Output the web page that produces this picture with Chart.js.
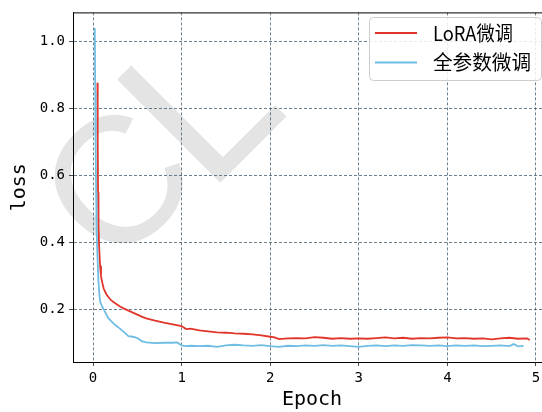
<!DOCTYPE html>
<html>
<head>
<meta charset="utf-8">
<script src="https://cdn.jsdelivr.net/npm/chart.js@4.4.0/dist/chart.umd.min.js"></script>
<style>
  body { margin: 0; overflow: hidden; background: #fff; }
  #wrap { width: 542px; height: 412px; overflow: hidden; }
</style>
</head>
<body>
<div id="wrap"><canvas id="lossChart" width="560" height="412"></canvas></div>
<script>
// series labels
const seriesNames = ['LoRA微调', '全参数微调'];
const xTicks = [0, 1, 2, 3, 4, 5];
const yTicks = [0.2, 0.4, 0.6, 0.8, 1.0];

// LoRA
const loraEpoch = [0.05, 0.053, 0.057, 0.062, 0.07, 0.08, 0.09, 0.10, 0.12, 0.15, 0.20, 0.25, 0.30, 0.35, 0.40, 0.45,
  0.50, 0.55, 0.60, 0.70, 0.80, 0.90, 1.00, 1.05, 1.10, 1.20, 1.30, 1.40, 1.50, 1.60, 1.70, 1.80, 1.90, 2.00, 2.05,
  2.10, 2.20, 2.30, 2.40, 2.50, 2.60, 2.70, 2.80, 2.90, 3.00, 3.10, 3.20, 3.30, 3.40, 3.50, 3.60, 3.70, 3.80, 3.90,
  4.00, 4.10, 4.20, 4.30, 4.40, 4.50, 4.60, 4.70, 4.80, 4.90, 4.93];
const loraLoss = [0.877, 0.70, 0.55, 0.45, 0.38, 0.33, 0.30, 0.285, 0.262, 0.245, 0.228, 0.218, 0.209, 0.202, 0.196, 0.19,
  0.184, 0.178, 0.173, 0.166, 0.160, 0.155, 0.150, 0.141, 0.142, 0.137, 0.134, 0.131, 0.130, 0.128, 0.127, 0.125, 0.122, 0.118, 0.116,
  0.111, 0.113, 0.114, 0.113, 0.117, 0.115, 0.112, 0.114, 0.112, 0.113, 0.112, 0.114, 0.116, 0.113, 0.115, 0.112, 0.114, 0.113, 0.115,
  0.116, 0.113, 0.114, 0.112, 0.113, 0.110, 0.113, 0.115, 0.112, 0.113, 0.108];

// full fine-tuning
const fullEpoch = [0.02, 0.025, 0.03, 0.035, 0.04, 0.05, 0.06, 0.07, 0.08, 0.10, 0.12, 0.15, 0.17, 0.20, 0.25, 0.30, 0.35,
  0.40, 0.45, 0.50, 0.55, 0.60, 0.70, 0.80, 0.90, 0.95, 1.00, 1.05, 1.10, 1.20, 1.30, 1.40, 1.50, 1.60, 1.70, 1.80, 1.90,
  2.00, 2.10, 2.20, 2.30, 2.40, 2.50, 2.60, 2.70, 2.80, 2.90, 3.00, 3.10, 3.20, 3.30, 3.40, 3.50, 3.60, 3.70, 3.80, 3.90,
  4.00, 4.10, 4.20, 4.30, 4.40, 4.50, 4.60, 4.70, 4.75, 4.80, 4.86];
const fullLoss = [1.041, 0.85, 0.68, 0.55, 0.45, 0.36, 0.29, 0.25, 0.223, 0.21, 0.20, 0.185, 0.174, 0.166, 0.153, 0.143, 0.132,
  0.120, 0.118, 0.114, 0.105, 0.101, 0.099, 0.100, 0.100, 0.101, 0.092, 0.090, 0.091, 0.090, 0.091, 0.088, 0.092, 0.094, 0.092, 0.091, 0.093,
  0.090, 0.088, 0.091, 0.090, 0.092, 0.091, 0.093, 0.091, 0.092, 0.090, 0.088, 0.091, 0.092, 0.090, 0.092, 0.091, 0.093, 0.092, 0.091, 0.092,
  0.090, 0.092, 0.091, 0.092, 0.090, 0.091, 0.092, 0.090, 0.096, 0.089, 0.091];

const colors = ['#e2352a', '#6fbde3'];
const mono = '"DejaVu Sans Mono", monospace';
const tickFont = { family: mono, size: 14 };
const cjk = '"Noto Sans CJK SC", "DejaVu Sans", sans-serif';

function toPoints(xs, ys) {
  return xs.map((x, i) => ({ x: x, y: ys[i] }));
}

// watermark + top spine + legend box
const extras = {
  id: 'extras',
  beforeDraw(chart) {
    const ctx = chart.ctx;
    ctx.save();
    ctx.translate(220, 183);
    ctx.rotate(-Math.PI / 4);
    ctx.fillStyle = '#e4e4e4';
    ctx.textBaseline = 'alphabetic';
    ctx.textAlign = 'left';
    ctx.font = '212px "Liberation Sans"';
    const mL = ctx.measureText('L');
    ctx.fillText('L', mL.actualBoundingBoxLeft, 0);
    ctx.font = '180px "Liberation Sans"';
    const mC = ctx.measureText('C');
    ctx.fillText('C', -14 - mC.actualBoundingBoxRight, -12);
    ctx.restore();
  },
  afterDraw(chart) {
    const ctx = chart.ctx;
    const a = chart.chartArea;
    ctx.save();
    ctx.strokeStyle = '#000';
    ctx.lineWidth = 1;
    ctx.beginPath();
    ctx.moveTo(a.left, a.top + 0.5);
    ctx.lineTo(a.right, a.top + 0.5);
    ctx.stroke();

    // legend
    const bx = 369, by = 17, bw = 172, bh = 63;
    const widths = [80, 98];
    ctx.fillStyle = 'rgba(255,255,255,0.85)';
    ctx.strokeStyle = '#cccccc';
    ctx.beginPath();
    ctx.roundRect(bx + 0.5, by + 0.5, bw, bh, 4);
    ctx.fill();
    ctx.stroke();
    ctx.font = '20px ' + cjk;
    ctx.textBaseline = 'middle';
    seriesNames.forEach((name, i) => {
      const y = by + 16 + i * 29.5;
      ctx.strokeStyle = colors[i];
      ctx.lineWidth = 1.8;
      ctx.beginPath();
      ctx.moveTo(bx + 6, y);
      ctx.lineTo(bx + 48, y);
      ctx.stroke();
      ctx.fillStyle = '#000';
      ctx.fillText(name, bx + 64, y, widths[i]);
    });
    ctx.restore();
  }
};

new Chart(document.getElementById('lossChart'), {
  type: 'line',
  data: {
    datasets: [
      { label: seriesNames[0], data: toPoints(loraEpoch, loraLoss), borderColor: colors[0], borderWidth: 1.8, pointRadius: 0, order: 2 },
      { label: seriesNames[1], data: toPoints(fullEpoch, fullLoss), borderColor: colors[1], borderWidth: 1.8, pointRadius: 0, order: 1 }
    ]
  },
  options: {
    responsive: false,
    animation: false,
    layout: { padding: { top: 7, right: 9, left: 0, bottom: 0 } },
    plugins: { legend: { display: false }, tooltip: { enabled: false } },
    scales: {
      x: {
        type: 'linear',
        min: -0.226,
        max: 5.17,
        afterBuildTicks: s => { s.ticks = xTicks.map(v => ({ value: v })); },
        afterFit: s => { s.height = 50; },
        ticks: { font: tickFont, color: '#000', padding: 4, maxRotation: 0 },
        grid: { color: '#2f4a5e', lineWidth: 0.7, tickLength: 4, tickColor: '#000', tickBorderDash: [] },
        border: { color: '#000', width: 1, dash: [3, 2] },
        title: { display: true, text: 'Epoch', font: { family: mono, size: 20 }, color: '#000', padding: 0 }
      },
      y: {
        min: 0.0425,
        max: 1.0875,
        afterBuildTicks: s => { s.ticks = yTicks.map(v => ({ value: v })); },
        afterFit: s => { s.width = 73; },
        ticks: { font: tickFont, color: '#000', padding: 4, callback: v => v.toFixed(1) },
        grid: { color: '#2f4a5e', lineWidth: 0.7, tickLength: 4, tickColor: '#000', tickBorderDash: [] },
        border: { color: '#000', width: 1, dash: [3, 2] },
        title: { display: true, text: 'loss', font: { family: mono, size: 20 }, color: '#000', padding: { top: 8, bottom: 0 } }
      }
    }
  },
  plugins: [extras]
});
</script>
</body>
</html>
